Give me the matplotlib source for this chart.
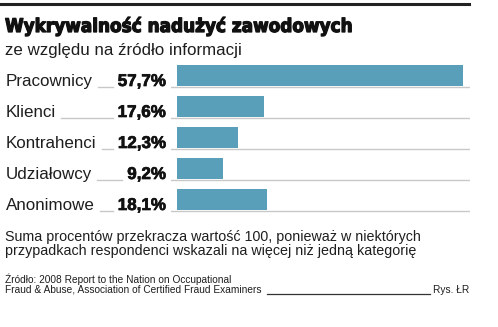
import matplotlib
matplotlib.use("Agg")
import matplotlib.pyplot as plt
import matplotlib.patheffects as pe

categories = ["Pracownicy", "Klienci", "Kontrahenci", "Udziałowcy", "Anonimowe"]
values = [57.7, 17.6, 12.3, 9.2, 18.1]
value_labels = ["57,7%", "17,6%", "12,3%", "9,2%", "18,1%"]

title = "Wykrywalność nadużyć zawodowych"
subtitle = "ze względu na źródło informacji"
note_1 = "Suma procentów przekracza wartość 100, ponieważ w niektórych"
note_2 = "przypadkach respondenci wskazali na więcej niż jedną kategorię"
source_1 = "Źródło: 2008 Report to the Nation on Occupational"
source_2 = "Fraud & Abuse, Association of Certified Fraud Examiners"
credit = "Rys. ŁR"

W, H = 498, 327
BAR_COLOR = "#5a9fb9"
TEXT = "#1e1e1e"
GRID = "#c8c8c8"

plt.rcParams["font.family"] = ["Liberation Sans", "DejaVu Sans"]


def pt(px):
    return px * 72 / 100


def fx(x):
    return x / W


def fy(y):
    return 1 - y / H


fig = plt.figure(figsize=(W / 100, H / 100), dpi=100)
fig.canvas.draw()
r = fig.canvas.get_renderer()


def fit(t, width):
    # shrink / grow the font so the text spans the width seen in the reference
    w = t.get_window_extent(r).width
    t.set_fontsize(t.get_fontsize() * width / w)
    return t


# top rule
fig.add_artist(plt.Line2D([fx(0), fx(469)], [fy(3.5), fy(3.5)], color="#222222", lw=2.2))

t = fig.text(fx(5), fy(32), title, fontsize=pt(21), fontweight="heavy",
             family="DejaVu Sans", fontstretch="condensed", color="#111111", va="baseline",
             path_effects=[pe.withStroke(linewidth=0.9, foreground="#111111")])
fit(t, 348)
t = fig.text(fx(5), fy(54.5), subtitle, fontsize=pt(16), color=TEXT, va="baseline")
fit(t, 236)

# bar area: rows of 31 px starting at y=60
top, row = 60, 31
x0, x1 = 171, 470
scale = 286 / 57.7  # px per percent
ax = fig.add_axes([fx(x0), fy(top + row * len(values)), (x1 - x0) / W, row * len(values) / H])
ax.set_xlim(-6 / scale, (x1 - x0 - 6) / scale)
ax.set_ylim(len(values) - 0.5, -0.5)
bar_h = 21 / row
ax.barh(range(len(values)), values, height=bar_h, color=BAR_COLOR)
for i in range(len(values)):
    ax.axhline(i + bar_h / 2 + 0.03, color=GRID, lw=1.0)
ax.axis("off")

for i, (cat, lab) in enumerate(zip(categories, value_labels)):
    base = top + row * i + 15.5 + 10.5
    t1 = fig.text(fx(6), fy(base), cat, fontsize=pt(17), color=TEXT, va="baseline")
    t2 = fig.text(fx(166), fy(base), lab, fontsize=pt(17), fontweight="bold",
                  color="#111111", ha="right", va="baseline",
                  path_effects=[pe.withStroke(linewidth=0.5, foreground="#111111")])
    e1 = t1.get_window_extent(r)
    e2 = t2.get_window_extent(r)
    fig.add_artist(plt.Line2D([(e1.x1 + 5) / W, (e2.x0 - 5) / W], [fy(base + 0.5)] * 2,
                              color=GRID, lw=1.0))

t = fig.text(fx(5), fy(241), note_1, fontsize=pt(14), color=TEXT, va="baseline")
fit(t, 415)
fig.text(fx(5), fy(254.5), note_2, fontsize=t.get_fontsize(), color=TEXT, va="baseline")

t = fig.text(fx(5), fy(293), source_2, fontsize=pt(10), color=TEXT, va="baseline")
fit(t, 255)
small = t.get_fontsize()
fig.text(fx(5), fy(283), source_1, fontsize=small, color=TEXT, va="baseline")
fig.text(fx(469), fy(293), credit, fontsize=small, color=TEXT,
         va="baseline", ha="right")
fig.add_artist(plt.Line2D([fx(267), fx(430)], [fy(293.5)] * 2, color="#333333", lw=0.9))

fig.savefig("out.png", dpi=100)
